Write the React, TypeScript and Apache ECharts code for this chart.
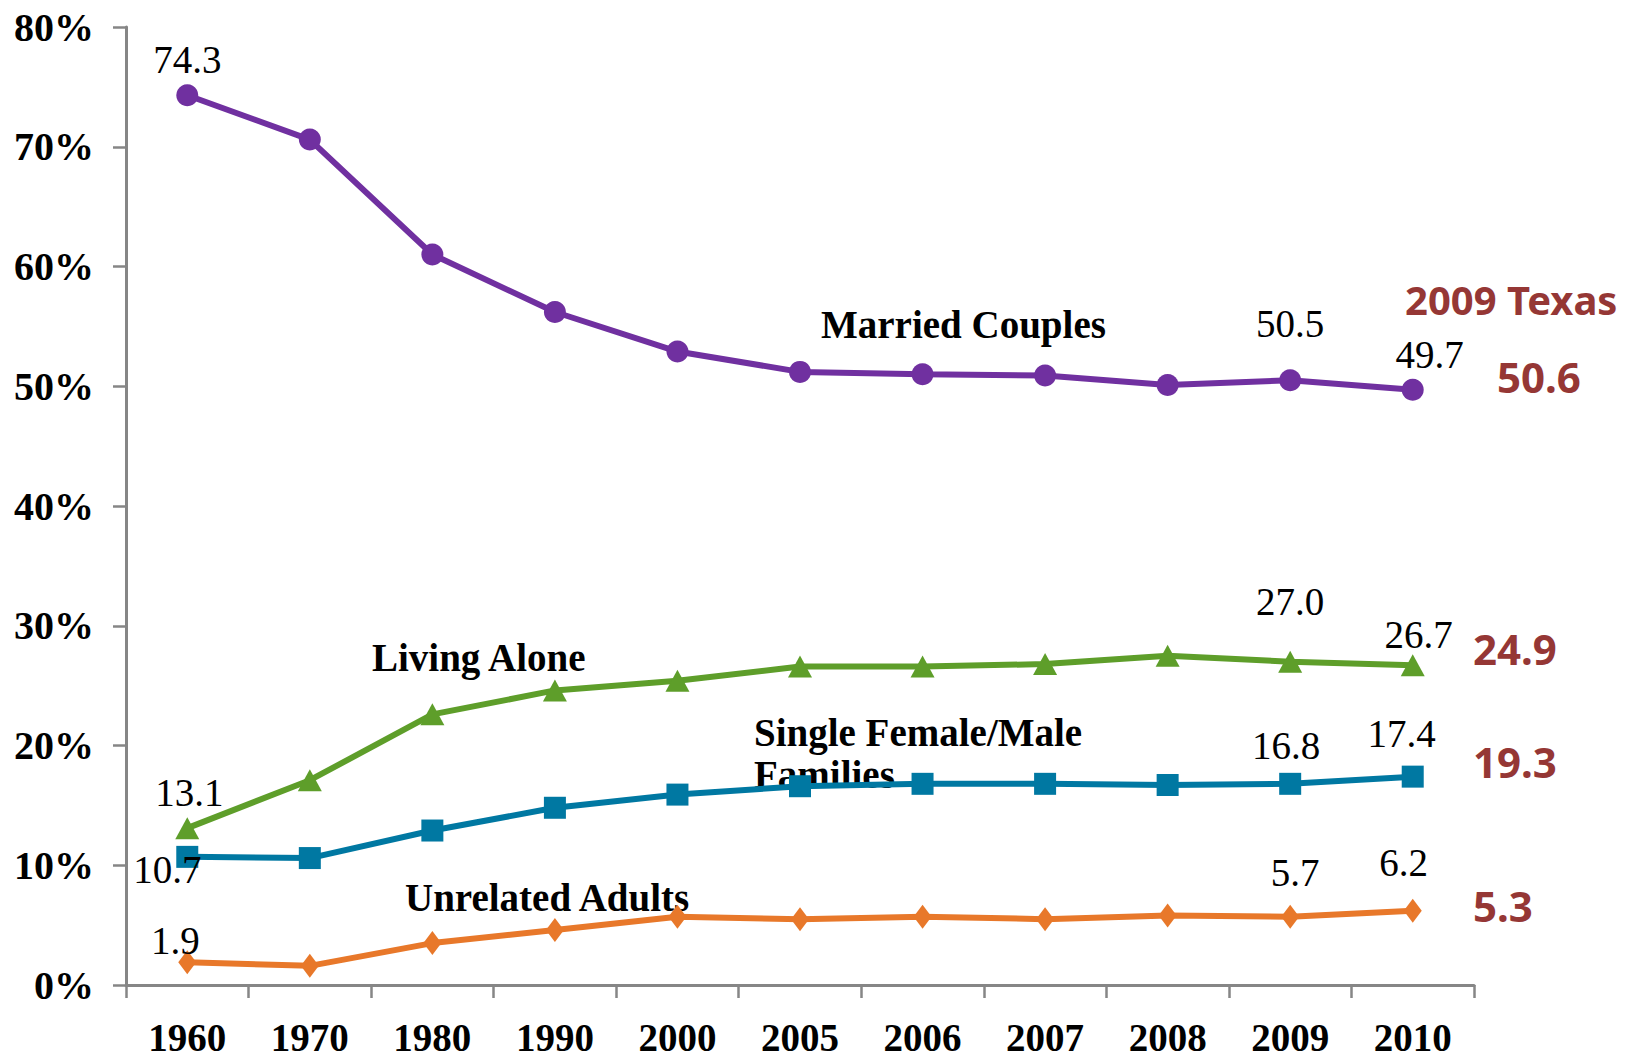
import React, { useEffect, useRef } from "react";
import * as echarts from "echarts";

const years = ["1960", "1970", "1980", "1990", "2000", "2005", "2006", "2007", "2008", "2009", "2010"];
const married = [74.3, 70.6, 61.0, 56.2, 52.9, 51.2, 51.0, 50.9, 50.1, 50.5, 49.7];
const livingAlone = [13.1, 17.1, 22.6, 24.6, 25.4, 26.6, 26.6, 26.8, 27.5, 27.0, 26.7];
const singleFamilies = [10.7, 10.6, 12.9, 14.8, 15.9, 16.6, 16.8, 16.8, 16.7, 16.8, 17.4];
const unrelated = [1.9, 1.6, 3.5, 4.6, 5.7, 5.5, 5.7, 5.5, 5.8, 5.7, 6.2];
const texas2009 = ["50.6", "24.9", "19.3", "5.3"];
const yTicks = { min: 0, max: 80, interval: 10 };

const SERIF = "'Liberation Serif', 'Times New Roman', serif";
const SANS = "'Noto Sans', 'Liberation Sans', sans-serif";
const RED = "#953735";

type LabelSpec = { idx: number; offset: [number, number]; position?: string };

function makeSeries(
  name: string,
  values: number[],
  color: string,
  symbol: string,
  symbolSize: number | number[],
  labels: LabelSpec[]
) {
  const data = values.map((v, i) => {
    const spec = labels.find((l) => l.idx === i);
    if (!spec) return { value: v };
    return {
      value: v,
      label: {
        show: true,
        position: spec.position || "top",
        offset: spec.offset,
        formatter: (p: any) => Number(p.value).toFixed(1),
        fontFamily: SERIF,
        fontSize: 39,
        color: "#000",
      },
    };
  });
  return {
    name,
    type: "line",
    data,
    symbol,
    symbolSize,
    showAllSymbol: true,
    lineStyle: { color, width: 6 },
    itemStyle: { color },
    label: { show: false },
    z: 3,
  };
}

export default function App() {
  const ref = useRef<HTMLDivElement>(null);
  useEffect(() => {
    if (!ref.current) return;
    const chart = echarts.init(ref.current, null, { renderer: "svg" });
    const axisColor = "#868686";
    const ann = `bold 39px ${SERIF}`;
    chart.setOption({
      animation: false,
      backgroundColor: "#ffffff",
      grid: { left: 126, right: 161, top: 27, bottom: 76, containLabel: false },
      xAxis: {
        type: "category",
        data: years,
        boundaryGap: true,
        axisLine: { lineStyle: { color: axisColor, width: 3 } },
        axisTick: { show: true, length: 13, lineStyle: { color: axisColor, width: 2.5 } },
        axisLabel: { fontFamily: SERIF, fontWeight: "bold", fontSize: 39, color: "#000", margin: 33 },
        splitLine: { show: false },
      },
      yAxis: {
        type: "value",
        min: yTicks.min,
        max: yTicks.max,
        interval: yTicks.interval,
        axisLine: { show: true, lineStyle: { color: axisColor, width: 3 } },
        axisTick: { show: true, length: 13, lineStyle: { color: axisColor, width: 2.5 } },
        axisLabel: {
          formatter: "{value}%",
          fontFamily: SERIF,
          fontWeight: "bold",
          fontSize: 40,
          color: "#000",
          margin: 32,
        },
        splitLine: { show: false },
      },
      series: [
        makeSeries("Married Couples", married, "#7030A0", "circle", 22, [
          { idx: 0, offset: [0, 0] },
          { idx: 9, offset: [0, -21] },
          { idx: 10, offset: [17, 0] },
        ]),
        makeSeries("Living Alone", livingAlone, "#5E9E2A", "triangle", [24, 22], [
          { idx: 0, offset: [2, 0] },
          { idx: 9, offset: [0, -25] },
          { idx: 10, offset: [6, 5] },
        ]),
        makeSeries("Single Female/Male Families", singleFamilies, "#0078A2", "rect", 22, [
          { idx: 0, offset: [-20, 13], position: "inside" },
          { idx: 9, offset: [-4, -3] },
          { idx: 10, offset: [-11, -8] },
        ]),
        makeSeries("Unrelated Adults", unrelated, "#E8782A", "diamond", [18, 24], [
          { idx: 0, offset: [-12, 15] },
          { idx: 9, offset: [5, -8] },
          { idx: 10, offset: [-9, -12] },
        ]),
      ],
      graphic: [
        { type: "text", x: 821, y: 324, style: { text: "Married Couples", font: ann, fill: "#000", textVerticalAlign: "middle" } },
        { type: "text", x: 372, y: 657, style: { text: "Living Alone", font: ann, fill: "#000", textVerticalAlign: "middle" } },
        { type: "text", x: 754, y: 732, style: { text: "Single Female/Male", font: ann, fill: "#000", textVerticalAlign: "middle" } },
        { type: "text", x: 754, y: 774, style: { text: "Families", font: ann, fill: "#000", textVerticalAlign: "middle" } },
        { type: "text", x: 405, y: 897, style: { text: "Unrelated Adults", font: ann, fill: "#000", textVerticalAlign: "middle" } },
        { type: "text", x: 1405, y: 299, style: { text: "2009 Texas", font: `bold 40px ${SANS}`, fill: RED, textVerticalAlign: "middle" } },
        { type: "text", x: 1497, y: 376, style: { text: texas2009[0], font: `bold 42px ${SANS}`, fill: RED, textVerticalAlign: "middle" } },
        { type: "text", x: 1473, y: 648, style: { text: texas2009[1], font: `bold 42px ${SANS}`, fill: RED, textVerticalAlign: "middle" } },
        { type: "text", x: 1473, y: 761, style: { text: texas2009[2], font: `bold 42px ${SANS}`, fill: RED, textVerticalAlign: "middle" } },
        { type: "text", x: 1473, y: 905, style: { text: texas2009[3], font: `bold 42px ${SANS}`, fill: RED, textVerticalAlign: "middle" } },
      ],
    });
    return () => chart.dispose();
  }, []);
  return (
    <div
      ref={ref}
      style={{ position: "absolute", left: 0, top: 0, width: 1635, height: 1061, background: "#fff" }}
    />
  );
}
